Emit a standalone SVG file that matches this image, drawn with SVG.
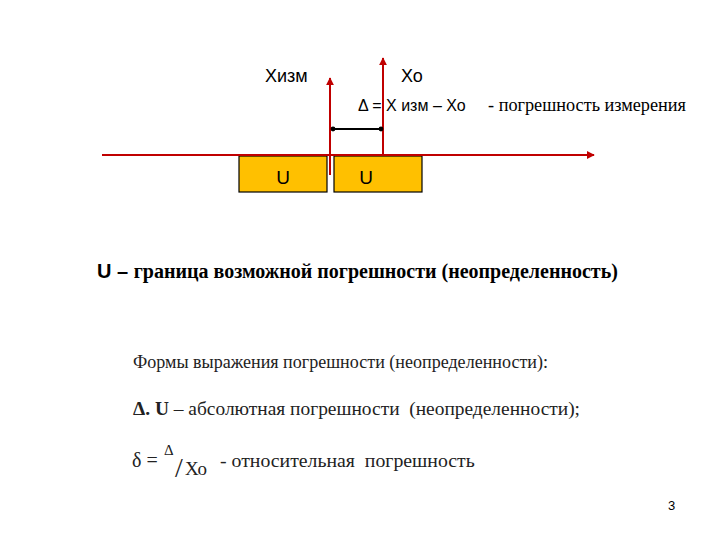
<svg xmlns="http://www.w3.org/2000/svg" width="720" height="540" viewBox="0 0 720 540">
<style>
.a{font-family:"Liberation Sans",Arial,sans-serif;fill:#000}
.t{font-family:"Liberation Serif","Times New Roman",serif;fill:#000}
.g{font-family:"Liberation Serif","Times New Roman",serif;fill:#222}
.red{stroke:#c00000;stroke-width:2;fill:none}
.box{fill:#ffc000;stroke:#000;stroke-width:1.2}
</style>
<defs>
<marker id="ar" viewBox="0 0 10 10" refX="9" refY="5" markerWidth="4" markerHeight="4" orient="auto"><path d="M0,0L10,5L0,10z" fill="#c00000"/></marker>
<marker id="bk" viewBox="0 0 10 10" refX="5" refY="5" markerWidth="3" markerHeight="3"><circle cx="5" cy="5" r="4" fill="#000"/></marker>
</defs>
<rect width="720" height="540" fill="#fff"/>
<g id="box-left"><rect class="box" x="239" y="156" width="88" height="36"/><text class="a" x="283" y="184" font-size="19" text-anchor="middle">U</text></g>
<g id="box-right"><rect class="box" x="334" y="156" width="88" height="36"/><text class="a" x="366" y="184" font-size="19" text-anchor="middle">U</text></g>
<g id="connectors">
<line class="red" x1="102" y1="155" x2="594" y2="155" marker-end="url(#ar)"/>
<line class="red" x1="330" y1="175" x2="330" y2="78" marker-end="url(#ar)"/>
<line class="red" x1="383" y1="155" x2="383" y2="58" marker-end="url(#ar)"/>
<line x1="333" y1="129" x2="381" y2="129" stroke="#000" stroke-width="2" marker-start="url(#bk)" marker-end="url(#bk)"/>
</g>
<g id="labels">
<text class="a" x="265" y="82" font-size="18">Хизм</text>
<text class="a" x="401" y="82" font-size="18">Хо</text>
<text class="a" x="358" y="111" font-size="16">Δ = Х изм – Хо</text>
<text class="t" x="488" y="111" font-size="19" textLength="198" lengthAdjust="spacingAndGlyphs">- погрешность измерения</text>
<text x="97" y="278" font-size="20"><tspan class="a" font-weight="bold">U – </tspan><tspan class="t" font-weight="bold">граница возможной погрешности (неопределенность)</tspan></text>
<text class="g" x="133" y="368" font-size="18" textLength="415" lengthAdjust="spacingAndGlyphs">Формы выражения погрешности (неопределенности):</text>
<text class="g" x="133" y="415" font-size="19.5" textLength="447" lengthAdjust="spacingAndGlyphs" xml:space="preserve"><tspan font-weight="bold">Δ. U</tspan> – абсолютная погрешности  (неопределенности);</text>
<text class="g" x="132" y="467" font-size="20">δ =</text>
<text class="g" x="164" y="455" font-size="15">Δ</text>
<text class="g" x="175" y="477" font-size="28">/</text>
<text class="g" x="185" y="475" font-size="19">Хо</text>
<text class="g" x="220" y="467" font-size="19.8" xml:space="preserve">- относительная  погрешность</text>
<text class="a" x="668" y="510" font-size="13">3</text>
</g>
</svg>
